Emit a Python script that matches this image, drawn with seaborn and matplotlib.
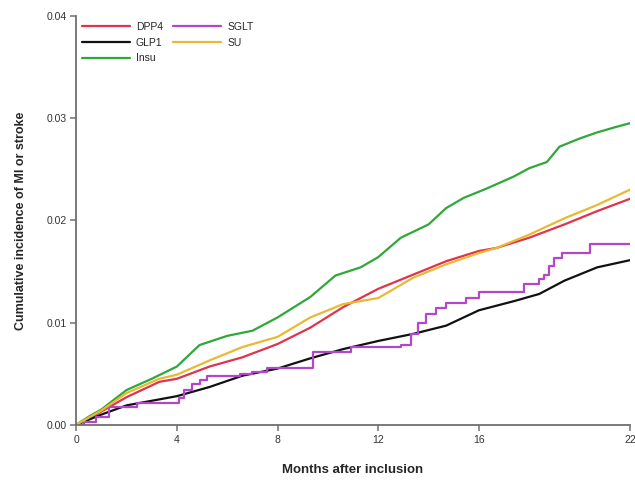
import numpy as np
import pandas as pd
import matplotlib
matplotlib.use("Agg")
import matplotlib.pyplot as plt
import seaborn as sns

# ---- data ----
months_dpp4 = [0, 0.5, 1, 2, 3.3, 4, 5.3, 6.6, 8, 9.3, 10.6, 12, 13.4, 14.7, 16, 16.7, 18, 19.4, 20.7, 22]
dpp4 = [0, 0.0006, 0.0013, 0.0027, 0.0042, 0.0045, 0.0057, 0.0066, 0.0079, 0.0095, 0.0115, 0.0133, 0.0147, 0.0160, 0.0170, 0.0173, 0.0183, 0.0196, 0.0209, 0.0221]

months_glp1 = [0, 0.5, 1, 2, 4, 5.3, 6.6, 8, 9.3, 10.6, 12, 13.4, 14.7, 16, 17.4, 18.4, 19.4, 20.7, 22]
glp1 = [0, 0.0005, 0.0010, 0.0019, 0.0028, 0.0037, 0.0048, 0.0055, 0.0065, 0.0074, 0.0082, 0.0089, 0.0097, 0.0112, 0.0121, 0.0128, 0.0141, 0.0154, 0.0161]

months_insu = [0, 0.5, 1, 2, 3, 4, 4.9, 6, 7, 8, 9.3, 10.3, 11.3, 12, 12.9, 14, 14.7, 15.4, 16.3, 17.4, 18, 18.7, 19.2, 20, 20.7, 21.4, 22]
insu = [0, 0.0008, 0.0015, 0.0034, 0.0045, 0.0057, 0.0078, 0.0087, 0.0092, 0.0105, 0.0125, 0.0146, 0.0154, 0.0164, 0.0183, 0.0196, 0.0212, 0.0222, 0.0231, 0.0243, 0.0251, 0.0257, 0.0272, 0.0280, 0.0286, 0.0291, 0.0295]

months_sglt = [0, 0.3, 0.8, 1.3, 2.4, 4.1, 4.3, 4.6, 4.9, 5.2, 6.5, 7.0, 7.6, 9.4, 10.9, 12.9, 13.3, 13.6, 13.9, 14.3, 14.7, 15.5, 16.0, 17.8, 18.4, 18.6, 18.8, 19.0, 19.3, 20.4, 22.0]
sglt = [0, 0.0003, 0.0008, 0.0017, 0.0021, 0.0026, 0.0034, 0.0040, 0.0044, 0.0048, 0.0050, 0.0052, 0.0056, 0.0071, 0.0076, 0.0078, 0.0089, 0.0100, 0.0108, 0.0114, 0.0119, 0.0124, 0.0130, 0.0138, 0.0143, 0.0147, 0.0155, 0.0163, 0.0168, 0.0177, 0.0177]

months_su = [0, 0.5, 1, 2, 3.3, 4, 5.3, 6.6, 8, 9.3, 10.6, 11.3, 12, 13.4, 14.7, 16, 16.7, 18, 19.4, 20.7, 22]
su = [0, 0.0007, 0.0014, 0.0031, 0.0045, 0.0049, 0.0063, 0.0076, 0.0086, 0.0105, 0.0118, 0.0121, 0.0124, 0.0144, 0.0157, 0.0168, 0.0173, 0.0186, 0.0202, 0.0215, 0.0230]

groups = ["DPP4", "GLP1", "Insu", "SGLT", "SU"]
colors = {"DPP4": "#e0334d", "GLP1": "#111111", "Insu": "#2fa83a", "SGLT": "#b147c9", "SU": "#e9b934"}

x_ticks = [0, 4, 8, 12, 16, 22]
y_ticks = [0.00, 0.01, 0.02, 0.03, 0.04]

series = {
    "DPP4": (months_dpp4, dpp4),
    "GLP1": (months_glp1, glp1),
    "Insu": (months_insu, insu),
    "SGLT": (months_sglt, sglt),
    "SU": (months_su, su),
}
frames = []
for g in groups:
    m, v = series[g]
    frames.append(pd.DataFrame({"month": m, "value": v, "group": g}))
df = pd.concat(frames, ignore_index=True)

sns.set_style("white")
plt.rcParams["font.family"] = ["Liberation Sans", "DejaVu Sans"]

fig = plt.figure(figsize=(6.35, 4.8), dpi=100)
ax = fig.add_axes([0.12, 0.115, 0.872, 0.852])

for g in groups:
    sub = df[df["group"] == g]
    kw = {"drawstyle": "steps-post"} if g == "SGLT" else {}
    sns.lineplot(data=sub, x="month", y="value", color=colors[g], lw=1.6,
                 estimator=None, sort=True, ax=ax, label=g, **kw)

ax.set_xlim(0, 22)
ax.set_ylim(0, 0.04)
ax.set_xticks(x_ticks)
ax.set_xticklabels([str(t) for t in x_ticks])
ax.set_yticks(y_ticks)
ax.set_yticklabels([f"{t:.2f}" for t in y_ticks])

for s in ["top", "right"]:
    ax.spines[s].set_visible(False)
for s in ["left", "bottom"]:
    ax.spines[s].set_color("#707070")
    ax.spines[s].set_linewidth(1.3)
ax.tick_params(axis="both", direction="out", length=4, width=1.1, color="#707070",
               labelsize=7.5, labelcolor="#333333", bottom=True, left=True, pad=3)

ax.set_xlabel("Months after inclusion", fontsize=9.5, fontweight="bold", labelpad=14)
ax.set_ylabel("Cumulative incidence of MI or stroke", fontsize=9, fontweight="bold", labelpad=14)

leg = ax.legend(loc="upper left", bbox_to_anchor=(-0.007, 1.008), ncol=2, frameon=False,
                fontsize=7.5, handlelength=4.6, columnspacing=1.0, labelspacing=0.55,
                handletextpad=0.6)

fig.savefig("out.png", dpi=100)
